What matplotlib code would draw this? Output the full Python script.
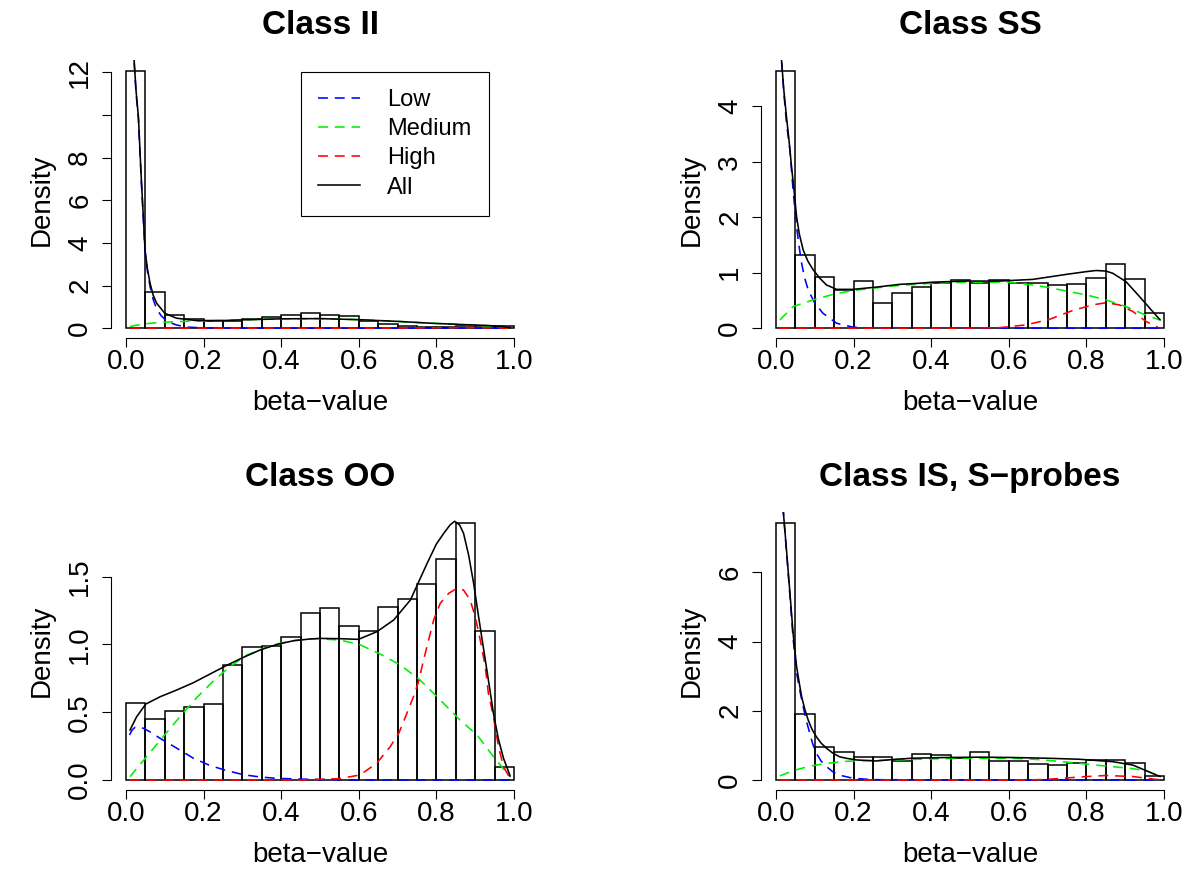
import numpy as np
import matplotlib
matplotlib.use('Agg')
import matplotlib.pyplot as plt
from matplotlib.lines import Line2D

plt.rcParams['font.family'] = ['Liberation Sans', 'DejaVu Sans']

# 20 histogram bins of width 0.05 on [0, 1]
bin_width = 0.05
bin_left = np.arange(20) * bin_width

# ---- Class II ----
dens_II = [12.07, 1.69, 0.61, 0.41, 0.32, 0.33, 0.43, 0.52, 0.60, 0.70,
           0.64, 0.56, 0.32, 0.19, 0.12, 0.06, 0.06, 0.09, 0.08, 0.11]
all_II_x = [0.018, 0.021, 0.026, 0.032, 0.036, 0.040, 0.045, 0.049, 0.055, 0.062, 0.070, 0.079,
            0.10, 0.13, 0.18, 0.25, 0.30, 0.40, 0.50, 0.60, 0.70, 0.79, 0.87, 0.93, 0.97, 0.99]
all_II_y = [14.0, 12.5, 11.1, 9.9, 8.3, 6.8, 5.1, 3.67, 2.8, 2.11, 1.55, 1.17,
            0.70, 0.47, 0.36, 0.36, 0.39, 0.44, 0.45, 0.40, 0.32, 0.23, 0.17, 0.13, 0.08, 0.03]
low_II_x = [0.018, 0.021, 0.026, 0.032, 0.036, 0.040, 0.045, 0.049, 0.055, 0.062, 0.070, 0.079,
            0.09, 0.10, 0.113, 0.13, 0.16, 0.20, 0.30, 0.50, 0.99]
low_II_y = [14.0, 12.5, 11.0, 9.8, 8.2, 6.7, 5.0, 3.6, 2.7, 1.95, 1.35, 0.9,
            0.6, 0.42, 0.27, 0.15, 0.05, 0.01, 0.0, 0.0, 0.0]
med_II_x = [0.01, 0.045, 0.087, 0.13, 0.20, 0.30, 0.40, 0.50, 0.60, 0.70, 0.80, 0.90, 0.96, 0.99]
med_II_y = [0.08, 0.20, 0.27, 0.31, 0.34, 0.39, 0.44, 0.45, 0.40, 0.32, 0.22, 0.14, 0.08, 0.02]
high_II_x = [0.01, 0.60, 0.70, 0.80, 0.88, 0.95, 0.99]
high_II_y = [0.0, 0.0, 0.01, 0.02, 0.03, 0.02, 0.0]

# ---- Class SS ----
dens_SS = [4.64, 1.32, 0.93, 0.69, 0.85, 0.46, 0.64, 0.75, 0.82, 0.87,
           0.81, 0.86, 0.81, 0.81, 0.77, 0.79, 0.90, 1.16, 0.88, 0.28]
all_SS_x = [0.010, 0.0145, 0.020, 0.027, 0.034, 0.040, 0.047, 0.053, 0.060, 0.070, 0.082, 0.096,
            0.113, 0.13, 0.156, 0.198, 0.258, 0.318, 0.369, 0.404, 0.49, 0.576, 0.662, 0.748,
            0.80, 0.825, 0.85, 0.868, 0.902, 0.937, 0.971, 0.99]
all_SS_y = [5.4, 4.8, 4.3, 3.81, 3.35, 2.91, 2.45, 2.01, 1.70, 1.41, 1.21, 1.05,
            0.90, 0.78, 0.70, 0.70, 0.74, 0.79, 0.81, 0.83, 0.85, 0.85, 0.88, 0.97,
            1.02, 1.04, 1.03, 0.99, 0.84, 0.57, 0.30, 0.15]
low_SS_x = [0.010, 0.0145, 0.020, 0.027, 0.036, 0.044, 0.053, 0.060, 0.066, 0.074, 0.083,
            0.10, 0.121, 0.156, 0.198, 0.25, 0.50, 0.99]
low_SS_y = [5.4, 4.8, 4.25, 3.7, 3.2, 2.49, 1.83, 1.45, 1.17, 0.9, 0.69,
            0.45, 0.27, 0.09, 0.02, 0.0, 0.0, 0.0]
med_SS_x = [0.01, 0.044, 0.096, 0.147, 0.198, 0.25, 0.30, 0.40, 0.50, 0.602, 0.662, 0.705,
            0.748, 0.80, 0.851, 0.902, 0.945, 0.988]
med_SS_y = [0.15, 0.39, 0.51, 0.61, 0.68, 0.72, 0.76, 0.81, 0.83, 0.83, 0.78, 0.73,
            0.67, 0.60, 0.51, 0.39, 0.26, 0.15]
high_SS_x = [0.01, 0.50, 0.576, 0.645, 0.705, 0.765, 0.816, 0.851, 0.885, 0.92, 0.954, 0.984]
high_SS_y = [0.0, 0.0, 0.01, 0.06, 0.16, 0.32, 0.42, 0.46, 0.42, 0.30, 0.12, 0.02]

# ---- Class OO ----
dens_OO = [0.568, 0.447, 0.512, 0.541, 0.561, 0.846, 0.978, 0.986, 1.052, 1.235,
           1.269, 1.138, 1.098, 1.279, 1.335, 1.448, 1.628, 1.898, 1.098, 0.094]
all_OO_x = [0.0103, 0.0275, 0.051, 0.088, 0.131, 0.174, 0.217, 0.26, 0.303, 0.346, 0.389,
            0.432, 0.475, 0.50, 0.552, 0.599, 0.647, 0.69, 0.733, 0.776, 0.80, 0.819, 0.835,
            0.847, 0.860, 0.870, 0.883, 0.896, 0.909, 0.922, 0.935, 0.947, 0.960, 0.973, 0.99]
all_OO_y = [0.369, 0.467, 0.56, 0.614, 0.664, 0.718, 0.782, 0.846, 0.905, 0.959, 1.0,
            1.027, 1.04, 1.044, 1.042, 1.037, 1.094, 1.18, 1.327, 1.597, 1.74, 1.819, 1.88,
            1.908, 1.88, 1.819, 1.66, 1.45, 1.20, 0.959, 0.72, 0.492, 0.30, 0.16, 0.03]
low_OO_x = [0.009, 0.016, 0.023, 0.032, 0.045, 0.065, 0.088, 0.131, 0.174, 0.217, 0.26, 0.303,
            0.346, 0.389, 0.475, 0.60, 0.99]
low_OO_y = [0.332, 0.37, 0.388, 0.393, 0.381, 0.35, 0.307, 0.234, 0.16, 0.106, 0.069, 0.039,
            0.022, 0.012, 0.005, 0.0, 0.0]
med_OO_x = [0.01, 0.053, 0.096, 0.139, 0.182, 0.225, 0.268, 0.311, 0.354, 0.397, 0.44, 0.492,
            0.552, 0.604, 0.655, 0.707, 0.758, 0.81, 0.861, 0.905, 0.947, 0.99]
med_OO_y = [0.024, 0.172, 0.32, 0.467, 0.607, 0.73, 0.836, 0.92, 0.971, 1.008, 1.032, 1.042,
            1.032, 0.996, 0.929, 0.848, 0.737, 0.59, 0.442, 0.332, 0.172, 0.024]
high_OO_x = [0.01, 0.45, 0.55, 0.603, 0.646, 0.681, 0.703, 0.724, 0.741, 0.754, 0.767, 0.780,
             0.793, 0.810, 0.832, 0.853, 0.870, 0.887, 0.90, 0.913, 0.926, 0.934, 0.947, 0.96,
             0.973, 0.99]
high_OO_y = [0.0, 0.0, 0.01, 0.037, 0.123, 0.246, 0.344, 0.492, 0.615, 0.725, 0.885, 1.032,
             1.18, 1.303, 1.377, 1.413, 1.401, 1.327, 1.205, 1.032, 0.836, 0.639, 0.467, 0.246,
             0.098, 0.012]

# ---- Class IS, S-probes ----
dens_IS = [7.44, 1.90, 0.96, 0.80, 0.66, 0.67, 0.55, 0.74, 0.72, 0.63,
           0.80, 0.55, 0.55, 0.45, 0.42, 0.49, 0.57, 0.57, 0.49, 0.11]
all_IS_x = [0.014, 0.019, 0.027, 0.036, 0.044, 0.053, 0.060, 0.066, 0.074, 0.083, 0.093, 0.104,
            0.116, 0.13, 0.146, 0.164, 0.185, 0.207, 0.258, 0.309, 0.352, 0.438, 0.524, 0.61,
            0.696, 0.782, 0.868, 0.92, 0.954, 0.99]
all_IS_y = [8.4, 7.73, 6.65, 5.39, 4.24, 3.28, 2.80, 2.41, 2.05, 1.73, 1.46, 1.25,
            1.07, 0.92, 0.78, 0.67, 0.62, 0.58, 0.55, 0.60, 0.63, 0.65, 0.66, 0.65,
            0.63, 0.60, 0.53, 0.43, 0.27, 0.10]
low_IS_x = [0.014, 0.019, 0.027, 0.036, 0.044, 0.053, 0.062, 0.07, 0.078, 0.087, 0.095, 0.104,
            0.116, 0.13, 0.146, 0.164, 0.198, 0.25, 0.50, 0.99]
low_IS_y = [8.4, 7.73, 6.6, 5.3, 4.1, 3.1, 2.55, 2.12, 1.72, 1.35, 1.03, 0.77,
            0.55, 0.39, 0.24, 0.14, 0.05, 0.01, 0.0, 0.0]
med_IS_x = [0.01, 0.044, 0.087, 0.13, 0.181, 0.232, 0.30, 0.40, 0.50, 0.60, 0.653, 0.739,
            0.825, 0.911, 0.954, 0.99]
med_IS_y = [0.12, 0.27, 0.40, 0.48, 0.54, 0.56, 0.58, 0.61, 0.63, 0.63, 0.61, 0.53,
            0.43, 0.34, 0.27, 0.10]
high_IS_x = [0.01, 0.60, 0.65, 0.70, 0.75, 0.80, 0.85, 0.92, 0.97, 0.99]
high_IS_y = [0.0, 0.0, 0.0, 0.02, 0.06, 0.10, 0.13, 0.10, 0.03, 0.01]

titles = ['Class II', 'Class SS', 'Class OO', 'Class IS, S\u2212probes']
x_ticks = [0.0, 0.2, 0.4, 0.6, 0.8, 1.0]
x_ticklabels = ['0.0', '0.2', '0.4', '0.6', '0.8', '1.0']
y_ticks = [[0, 2, 4, 6, 8, 10, 12], [0, 1, 2, 3, 4], [0.0, 0.5, 1.0, 1.5], [0, 2, 4, 6]]
y_ticklabels = [['0', '2', '4', '6', '8', '', '12'], ['0', '1', '2', '3', '4'],
                ['0.0', '0.5', '1.0', '1.5'], ['0', '2', '4', '6']]
legend_labels = ['Low', 'Medium', 'High', 'All']

hist_data = [dens_II, dens_SS, dens_OO, dens_IS]
curve_data = [
    [(low_II_x, low_II_y), (med_II_x, med_II_y), (high_II_x, high_II_y), (all_II_x, all_II_y)],
    [(low_SS_x, low_SS_y), (med_SS_x, med_SS_y), (high_SS_x, high_SS_y), (all_SS_x, all_SS_y)],
    [(low_OO_x, low_OO_y), (med_OO_x, med_OO_y), (high_OO_x, high_OO_y), (all_OO_x, all_OO_y)],
    [(low_IS_x, low_IS_y), (med_IS_x, med_IS_y), (high_IS_x, high_IS_y), (all_IS_x, all_IS_y)],
]

colors = ['#0000ff', '#00ee00', '#ff0000', 'black']
dash = (0, (6.2, 4.3))
styles = [dash, dash, dash, '-']

W, H = 1200.0, 890.0
# axes boxes in pixels: left, top, width, height
boxes = [(110.5, 60.5, 419.0, 278.0), (760.5, 60.5, 419.0, 278.0),
         (110.5, 512.3, 419.0, 278.0), (760.5, 512.3, 419.0, 278.0)]

fig = plt.figure(figsize=(12, 8.9), dpi=100)

for i in range(4):
    l, t, w, h = boxes[i]
    ax = fig.add_axes([l / W, 1 - (t + h) / H, w / W, h / H])
    dens = hist_data[i]
    ymax = max(dens)

    ax.bar(bin_left, dens, width=bin_width, align='edge', fill=False,
           edgecolor='black', linewidth=1.1)
    for k in range(4):
        cx, cy = curve_data[i][k]
        ax.plot(cx, cy, color=colors[k], linestyle=styles[k], linewidth=1.15)

    ax.set_xlim(-0.04, 1.04)
    ax.set_ylim(-0.04 * ymax, 1.04 * ymax)

    for s in ['top', 'right']:
        ax.spines[s].set_visible(False)
    ax.spines['bottom'].set_bounds(0, 1)
    ax.spines['left'].set_bounds(0, y_ticks[i][-1])
    ax.spines['bottom'].set_linewidth(0.8)
    ax.spines['left'].set_linewidth(0.8)

    ax.set_xticks(x_ticks)
    ax.set_xticklabels(x_ticklabels)
    ax.set_yticks(y_ticks[i])
    ax.set_yticklabels(y_ticklabels[i], rotation=90, va='center')
    ax.tick_params(direction='out', length=6.5, width=0.8, labelsize=20)
    ax.tick_params(axis='x', pad=1)
    ax.tick_params(axis='y', pad=6)

    ax.set_title(titles[i], fontsize=24, fontweight='bold', pad=19)
    ax.set_xlabel('beta\u2212value', fontsize=20, labelpad=11)
    ax.set_ylabel('Density', fontsize=20, labelpad=9)

    if i == 0:
        handles = [Line2D([], [], color=colors[k], linestyle=styles[k], linewidth=1.15)
                   for k in range(4)]
        leg = ax.legend(handles, legend_labels, loc='upper left',
                        bbox_to_anchor=(0.45, 12), bbox_transform=ax.transData,
                        borderaxespad=0, fontsize=17, fancybox=False, framealpha=1,
                        edgecolor='black', borderpad=0.72, handlelength=1.8,
                        handletextpad=1.15, labelspacing=0.3)
        leg.get_frame().set_linewidth(0.8)

fig.savefig('out.png', dpi=100)
